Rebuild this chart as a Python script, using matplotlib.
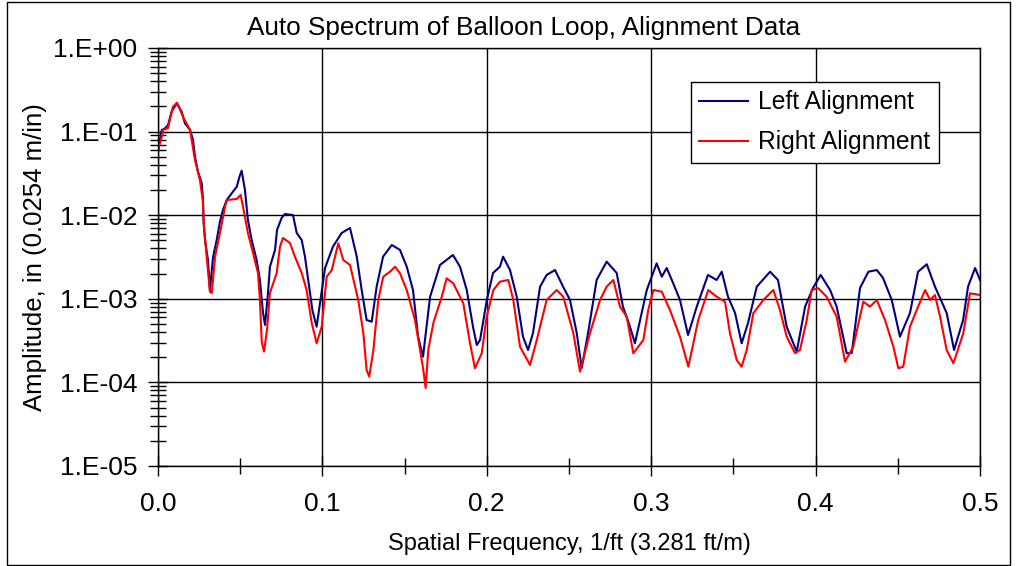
import numpy as np
import matplotlib
matplotlib.use("Agg")
import matplotlib.pyplot as plt
from matplotlib.ticker import FixedLocator, FuncFormatter, LogLocator, NullFormatter
from matplotlib.patches import Rectangle

plt.rcParams['font.family'] = ['Liberation Sans', 'DejaVu Sans']

# spatial frequency [1/ft] and log10 of the amplitude for each alignment rail
left_freq = [0.0000, 0.0012, 0.0023, 0.0043, 0.0061, 0.0083, 0.0114, 0.0144, 0.0164, 0.0195,
             0.0213, 0.0225, 0.0243, 0.0266, 0.0274, 0.0277, 0.0286, 0.0304, 0.0316, 0.0335,
             0.0357, 0.0377, 0.0395, 0.0418, 0.0456, 0.0479, 0.0499, 0.0509, 0.0529, 0.0547,
             0.0570, 0.0600, 0.0620, 0.0639, 0.0651, 0.0669, 0.0681, 0.0712, 0.0724, 0.0752,
             0.0772, 0.0821, 0.0844, 0.0874, 0.0894, 0.0925, 0.0939, 0.0965, 0.1016, 0.1064,
             0.1117, 0.1168, 0.1209, 0.1239, 0.1269, 0.1300, 0.1330, 0.1369, 0.1422, 0.1472,
             0.1513, 0.1551, 0.1582, 0.1612, 0.1655, 0.1715, 0.1794, 0.1837, 0.1878, 0.1916,
             0.1939, 0.1959, 0.2000, 0.2038, 0.2080, 0.2099, 0.2141, 0.2182, 0.2220, 0.2251,
             0.2281, 0.2324, 0.2364, 0.2415, 0.2464, 0.2506, 0.2547, 0.2577, 0.2616, 0.2668,
             0.2729, 0.2790, 0.2828, 0.2871, 0.2901, 0.2973, 0.3003, 0.3033, 0.3064, 0.3094,
             0.3133, 0.3175, 0.3224, 0.3277, 0.3345, 0.3398, 0.3429, 0.3467, 0.3510, 0.3550,
             0.3589, 0.3642, 0.3723, 0.3771, 0.3824, 0.3885, 0.3936, 0.3984, 0.4031, 0.4088,
             0.4128, 0.4189, 0.4220, 0.4270, 0.4321, 0.4372, 0.4410, 0.4463, 0.4513, 0.4574,
             0.4623, 0.4676, 0.4726, 0.4797, 0.4842, 0.4897, 0.4927, 0.4970, 0.5000]
left_log = [-1.240, -1.100, -0.981, -0.961, -0.921, -0.762, -0.661, -0.762, -0.901, -0.981,
            -1.100, -1.300, -1.480, -1.615, -1.818, -2.078, -2.297, -2.536, -2.895, -2.500,
            -2.297, -2.078, -1.938, -1.818, -1.719, -1.659, -1.519, -1.468, -1.699, -2.057,
            -2.297, -2.536, -2.775, -3.170, -3.313, -2.931, -2.616, -2.416, -2.177, -2.033,
            -1.986, -1.998, -2.213, -2.297, -2.496, -2.931, -3.134, -3.334, -2.632, -2.377,
            -2.213, -2.153, -2.496, -2.895, -3.254, -3.274, -2.855, -2.496, -2.356, -2.416,
            -2.616, -2.895, -3.453, -3.693, -2.975, -2.596, -2.476, -2.616, -2.895, -3.334,
            -3.553, -3.493, -3.014, -2.691, -2.616, -2.496, -2.656, -2.975, -3.453, -3.612,
            -3.409, -2.855, -2.715, -2.656, -2.855, -3.014, -3.409, -3.828, -3.409, -2.775,
            -2.556, -2.691, -3.094, -3.334, -3.532, -2.895, -2.736, -2.576, -2.736, -2.632,
            -2.811, -3.014, -3.433, -3.094, -2.715, -2.775, -2.676, -2.975, -3.170, -3.532,
            -3.289, -2.855, -2.676, -2.775, -3.334, -3.633, -3.094, -2.871, -2.715, -2.895,
            -3.094, -3.652, -3.648, -2.871, -2.676, -2.656, -2.751, -3.014, -3.453, -3.170,
            -2.676, -2.587, -2.855, -3.170, -3.612, -3.254, -2.855, -2.632, -2.775]

right_freq = [0.0000, 0.0023, 0.0030, 0.0061, 0.0091, 0.0116, 0.0152, 0.0195, 0.0225, 0.0255,
              0.0272, 0.0280, 0.0296, 0.0316, 0.0327, 0.0347, 0.0377, 0.0408, 0.0420, 0.0479,
              0.0503, 0.0517, 0.0547, 0.0578, 0.0608, 0.0620, 0.0631, 0.0645, 0.0663, 0.0681,
              0.0722, 0.0742, 0.0760, 0.0803, 0.0833, 0.0874, 0.0904, 0.0935, 0.0965, 0.0996,
              0.1026, 0.1057, 0.1097, 0.1127, 0.1168, 0.1218, 0.1249, 0.1269, 0.1285, 0.1310,
              0.1340, 0.1370, 0.1411, 0.1442, 0.1472, 0.1513, 0.1563, 0.1594, 0.1614, 0.1628,
              0.1644, 0.1675, 0.1726, 0.1756, 0.1796, 0.1857, 0.1898, 0.1928, 0.1969, 0.1999,
              0.2040, 0.2080, 0.2131, 0.2161, 0.2202, 0.2263, 0.2304, 0.2364, 0.2425, 0.2465,
              0.2526, 0.2567, 0.2628, 0.2689, 0.2729, 0.2770, 0.2810, 0.2851, 0.2891, 0.2952,
              0.2982, 0.3013, 0.3064, 0.3114, 0.3175, 0.3226, 0.3286, 0.3347, 0.3398, 0.3449,
              0.3479, 0.3520, 0.3550, 0.3581, 0.3621, 0.3682, 0.3743, 0.3783, 0.3824, 0.3875,
              0.3905, 0.3946, 0.3976, 0.4016, 0.4067, 0.4128, 0.4179, 0.4229, 0.4270, 0.4290,
              0.4331, 0.4372, 0.4422, 0.4473, 0.4503, 0.4533, 0.4574, 0.4615, 0.4666, 0.4696,
              0.4726, 0.4757, 0.4797, 0.4838, 0.4898, 0.4939, 0.5000]
right_log = [-1.220, -1.061, -0.981, -0.957, -0.702, -0.654, -0.822, -0.981, -1.340, -1.579,
             -1.818, -2.138, -2.496, -2.915, -2.931, -2.496, -2.213, -1.898, -1.818, -1.806,
             -1.758, -1.898, -2.213, -2.452, -2.691, -3.014, -3.513, -3.633, -3.373, -2.931,
             -2.691, -2.377, -2.273, -2.333, -2.496, -2.691, -2.895, -3.289, -3.532, -3.334,
             -2.736, -2.656, -2.336, -2.536, -2.596, -3.014, -3.409, -3.852, -3.932, -3.612,
             -3.014, -2.736, -2.676, -2.616, -2.695, -2.895, -3.254, -3.612, -3.852, -4.067,
             -3.612, -3.289, -2.975, -2.755, -2.815, -3.054, -3.532, -3.831, -3.652, -3.214,
             -2.895, -2.795, -2.775, -3.014, -3.573, -3.792, -3.493, -3.014, -2.895, -2.975,
             -3.409, -3.872, -3.409, -3.014, -2.855, -2.775, -3.094, -3.214, -3.652, -3.493,
             -3.134, -2.895, -2.915, -3.134, -3.453, -3.812, -3.254, -2.895, -2.975, -3.035,
             -3.413, -3.732, -3.812, -3.612, -3.173, -3.014, -2.895, -3.134, -3.453, -3.652,
             -3.612, -3.254, -2.895, -2.874, -2.975, -3.214, -3.752, -3.573, -3.214, -3.035,
             -3.094, -3.014, -3.254, -3.573, -3.831, -3.812, -3.334, -3.134, -2.895, -3.014,
             -2.955, -3.214, -3.612, -3.772, -3.413, -2.934, -2.955]

x_ticks = [0.0, 0.1, 0.2, 0.3, 0.4, 0.5]
y_ticks = [1e-5, 1e-4, 1e-3, 1e-2, 1e-1, 1e0]

fig = plt.figure(figsize=(10.16, 5.66), dpi=100)
ax = fig.add_axes([0.1555, 0.1767, 0.8091, 0.7385])

ax.plot(left_freq, 10 ** np.array(left_log), color='#000080', lw=1.5, label='Left Alignment')
ax.plot(right_freq, 10 ** np.array(right_log), color='#ff0000', lw=1.5, label='Right Alignment')

ax.set_yscale('log')
ax.set_xlim(0, 0.5)
ax.set_ylim(1e-5, 1)

ax.xaxis.set_major_locator(FixedLocator(x_ticks))
ax.xaxis.set_minor_locator(FixedLocator([0.05, 0.15, 0.25, 0.35, 0.45]))
ax.xaxis.set_major_formatter(FuncFormatter(lambda v, p: f"{v:.1f}"))
ax.yaxis.set_major_locator(FixedLocator(y_ticks))
ax.yaxis.set_minor_locator(LogLocator(base=10, subs=np.arange(2, 10)))
ax.yaxis.set_minor_formatter(NullFormatter())
ax.yaxis.set_major_formatter(FuncFormatter(lambda v, p: f"1.E{int(round(np.log10(v))):+03d}"))

ax.tick_params(which='major', direction='inout', length=14, width=1, labelsize=19, colors='black')
ax.tick_params(which='minor', direction='inout', length=12, width=1)
ax.tick_params(axis='x', pad=12)
ax.tick_params(axis='y', pad=8)

ax.grid(True, which='major', color='black', lw=1)
for s in ax.spines.values():
    s.set_color('black')
    s.set_linewidth(1)

ax.set_xlabel('Spatial Frequency, 1/ft (3.281 ft/m)', fontsize=17, labelpad=12)
ax.set_ylabel('Amplitude, in (0.0254 m/in)', fontsize=18.5, labelpad=4)
fig.text(0.515, 0.9505, 'Auto Spectrum of Balloon Loop, Alignment Data', fontsize=18.8,
         ha='center', va='center')

leg = ax.legend(loc='upper right', bbox_to_anchor=(0.950, 0.919), fontsize=17.7, fancybox=False,
                framealpha=1, edgecolor='black', borderpad=0.35, handlelength=2.0,
                handletextpad=0.4, labelspacing=0.65, borderaxespad=0)
leg.get_frame().set_linewidth(1)

# thin frame round the whole chart
fig.patches.append(Rectangle((0.007, 0.002), 0.987, 0.995, transform=fig.transFigure,
                             fill=False, edgecolor='black', lw=1))

fig.savefig('out.png', dpi=100)
